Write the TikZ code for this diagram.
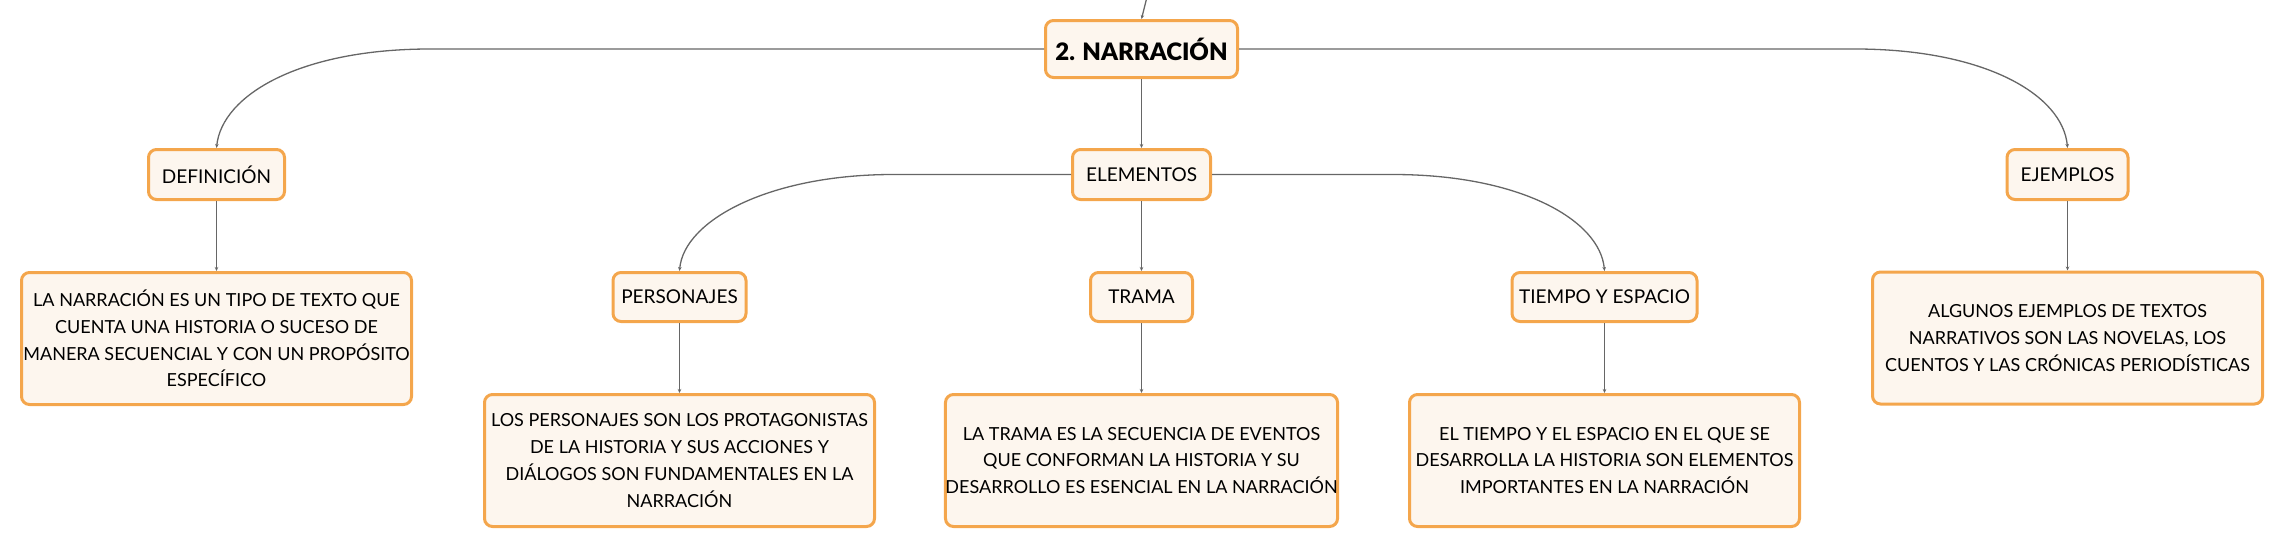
\documentclass[tikz,border=0pt]{standalone}
\usepackage{fontspec}
\setmainfont{Lato}
\newfontfamily\heavyfont{Lato Black}
\usetikzlibrary{arrows.meta}
\definecolor{boxorange}{HTML}{F4A64C}
\definecolor{boxfill}{HTML}{FDF6EE}
\definecolor{linkgray}{HTML}{666666}
\tikzset{
  box/.style={draw=boxorange, fill=boxfill, line width=3pt, rounded corners=8pt,
    align=center, inner sep=0pt, text=black},
  topic/.style={box, font=\fontsize{19}{24}\selectfont},
  mainbox/.style={box, font=\fontsize{24}{28}\heavyfont},
  textbox/.style={box, minimum width=390pt, minimum height=132pt,
    font=\fontsize{18}{26.7}\selectfont},
  link/.style={draw=linkgray, line width=1.3pt, -{Stealth[length=4pt,width=3.5pt]}}
}
\begin{document}
\begin{tikzpicture}[x=1pt,y=-1pt]
\useasboundingbox (0,0) rectangle (2284,549);
% nodes
\node[mainbox, minimum width=192pt, minimum height=57pt] (narr) at (1141.5,49) {2. NARRACIÓN};
\coordinate (topin) at (1147,-3);
\node[topic, minimum width=138pt, minimum height=50pt] (elem) at (1141.5,174.5) {ELEMENTOS};
\node[topic, minimum width=136pt, minimum height=50pt] (def) at (216.5,174.5) {DEFINICIÓN};
\node[topic, minimum width=121pt, minimum height=50pt] (ejem) at (2067.5,174.5) {EJEMPLOS};
\node[topic, minimum width=133pt, minimum height=49pt] (pers) at (679.5,297) {PERSONAJES};
\node[topic, minimum width=102pt, minimum height=49pt] (trama) at (1141.5,297) {TRAMA};
\node[topic, minimum width=185pt, minimum height=49pt] (tiempo) at (1604.5,297) {TIEMPO Y ESPACIO};
\node[textbox] (deft) at (216.5,338.5) {LA NARRACIÓN ES UN TIPO DE TEXTO QUE\\CUENTA UNA HISTORIA O SUCESO DE\\MANERA SECUENCIAL Y CON UN PROPÓSITO\\ESPECÍFICO};
\node[textbox] (perst) at (679.5,460.5) {LOS PERSONAJES SON LOS PROTAGONISTAS\\DE LA HISTORIA Y SUS ACCIONES Y\\DIÁLOGOS SON FUNDAMENTALES EN LA\\NARRACIÓN};
\node[textbox] (tramat) at (1141.5,460.5) {LA TRAMA ES LA SECUENCIA DE EVENTOS\\QUE CONFORMAN LA HISTORIA Y SU\\DESARROLLO ES ESENCIAL EN LA NARRACIÓN};
\node[textbox] (tiempot) at (1604.5,460.5) {EL TIEMPO Y EL ESPACIO EN EL QUE SE\\DESARROLLA LA HISTORIA SON ELEMENTOS\\IMPORTANTES EN LA NARRACIÓN};
\node[textbox] (ejemt) at (2067.5,338) {ALGUNOS EJEMPLOS DE TEXTOS\\NARRATIVOS SON LAS NOVELAS, LOS\\CUENTOS Y LAS CRÓNICAS PERIODÍSTICAS};
% connectors
\draw[link] (topin) .. controls (1145,5) .. (narr.north);
\draw[link] (narr.west) -- (430,49) .. controls (300,49) and (222,95) .. (def.north);
\draw[link] (narr.east) -- (1855,49) .. controls (1985,49) and (2063,95) .. (ejem.north);
\draw[link] (narr.south) -- (elem.north);
\draw[link] (elem.west) -- (893,174.5) .. controls (770,174.5) and (684,220) .. (pers.north);
\draw[link] (elem.east) -- (1393,174.5) .. controls (1520,174.5) and (1600,220) .. (tiempo.north);
\draw[link] (elem.south) -- (trama.north);
\draw[link] (def.south) -- (deft.north);
\draw[link] (pers.south) -- (perst.north);
\draw[link] (trama.south) -- (tramat.north);
\draw[link] (tiempo.south) -- (tiempot.north);
\draw[link] (ejem.south) -- (ejemt.north);
\end{tikzpicture}
\end{document}
